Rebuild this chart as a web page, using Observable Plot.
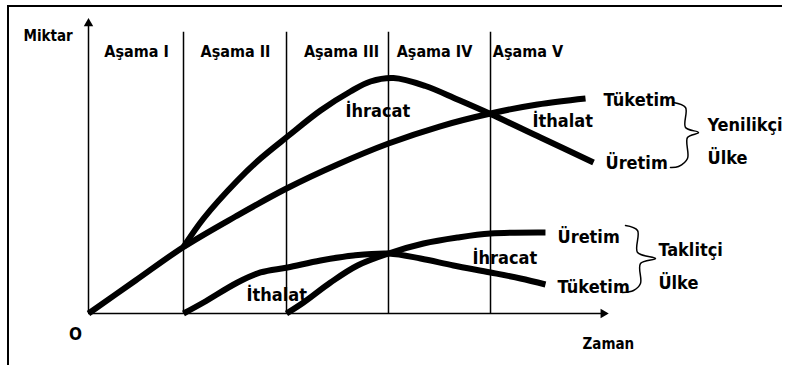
<!DOCTYPE html>
<html><head><meta charset="utf-8">
<script src="https://cdn.jsdelivr.net/npm/d3@7"></script>
<script src="https://cdn.jsdelivr.net/npm/@observablehq/plot@0.6"></script>
<style>
body{margin:0;background:#fff;}
#wrap{position:relative;width:787px;height:365px;overflow:hidden;}
#frame{position:absolute;left:7px;top:5px;width:775px;height:362px;border-top:2px solid #000;border-left:2px solid #000;box-sizing:border-box;pointer-events:none;}
</style></head><body>
<div id="wrap"><div id="frame"></div></div>
<script>
// Stage (Aşama) boundaries on the time axis and their labels
const stageBounds = [0, 18.27, 38.08, 57.69, 77.31];
const stageLabels = ["Aşama I", "Aşama II", "Aşama III", "Aşama IV", "Aşama V"];
const stageLabelX = [9.23, 28.27, 48.65, 66.54, 84.52];
const stageLabelY = 88.6;

// Yenilikçi Ülke (innovating country)
const innovConsX = [0, 9.04, 18.27, 28.27, 38.08, 47.88, 57.69, 67.5, 77.31, 86.35, 95.58];
const innovConsY = [0, 11.38, 22.93, 33.45, 43.10, 51.38, 58.62, 64.48, 68.97, 72.07, 74.14];
const innovProdX = [18.27, 22.12, 28.65, 33.08, 38.27, 44.62, 50.38, 54.23, 58.65, 64.81, 70.96, 77.31, 86.92, 97.12];
const innovProdY = [22.93, 32.76, 45.86, 53.45, 61.03, 70.0, 76.55, 80.0, 81.21, 78.45, 73.79, 68.79, 60.69, 52.07];

// Taklitçi Ülke (imitating country)
const imitConsX = [18.27, 22.12, 28.65, 33.08, 38.27, 44.62, 50.96, 57.69, 63.85, 70.19, 77.31, 83.08, 87.88];
const imitConsY = [0, 3.79, 10.69, 14.14, 15.86, 18.28, 20.0, 20.69, 18.97, 16.55, 14.14, 12.07, 10.0];
const imitProdX = [38.08, 41.35, 46.54, 51.73, 57.69, 64.42, 70.96, 77.31, 87.88];
const imitProdY = [0, 3.79, 10.69, 16.55, 20.69, 24.14, 26.21, 27.59, 27.93];

// Curve annotations
const labelTexts = ["İhracat", "İthalat", "Tüketim", "Üretim", "Yenilikçi", "Ülke", "İhracat", "İthalat", "Üretim", "Tüketim", "Taklitçi", "Ülke"];
const labelX = [49.42, 85.38, 99.04, 99.42, 119.04, 119.04, 73.85, 30.38, 90.19, 90.19, 109.6, 109.6];
const labelY = [67.59, 64.14, 71.72, 50.0, 63.10, 51.72, 17.24, 4.48, 24.14, 7.24, 20.0, 8.62];

// Braces
const braceTopX = [112.5, 114.81, 114.81, 117.31, 115.19, 115.19, 113.46, 111.92];
const braceTopY = [72.76, 71.03, 64.14, 62.41, 60.69, 53.45, 50.69, 50.34];
const braceBotX = [103.27, 105.58, 105.58, 109.04, 106.15, 106.15, 104.81, 102.69];
const braceBotY = [30.34, 28.62, 21.03, 18.97, 17.24, 10.34, 7.93, 7.24];

// Axis titles
const yTitle = "Miktar";
const yTitlePos = [-12.5, 94.1];
const originLabel = "O";
const originPos = [-2.5, -9.3];
const xTitle = "Zaman";
const xTitlePos = [95.0, -12.4];

const pts = (xs, ys) => xs.map((x, i) => ({x, y: ys[i]}));
const FONT = "'DejaVu Sans Condensed', 'DejaVu Sans', sans-serif";

const curveOpts = {x: "x", y: "y", curve: "catmull-rom", stroke: "#000", strokeWidth: 6, strokeLinecap: "butt"};
const txt = {fontWeight: "bold", lineAnchor: "bottom", fill: "#000"};

const chart = Plot.plot({
  width: 787, height: 365,
  marginLeft: 88, marginRight: 179, marginTop: 23, marginBottom: 52,
  x: {domain: [0, 100], axis: null},
  y: {domain: [0, 100], axis: null},
  style: {fontFamily: FONT, background: "transparent", overflow: "visible", fontStretch: "condensed"},
  marks: [
    Plot.ruleX(stageBounds.slice(1), {y1: 0, y2: 97, stroke: "#000", strokeWidth: 1.5}),
    Plot.ruleX([0], {y1: 0, y2: 100, stroke: "#000", strokeWidth: 1.5}),
    Plot.ruleY([0], {x1: 0, x2: 99, stroke: "#000", strokeWidth: 1.5}),
    Plot.dot([{x: 0, y: 100}], {x: "x", y: "y", symbol: "triangle", r: 3.5, fill: "#000", stroke: null}),
    Plot.dot([{x: 99, y: 0}], {x: "x", y: "y", symbol: "triangle", r: 3.5, fill: "#000", stroke: null, rotate: 90}),
    Plot.text(stageLabels, {...txt, x: (d, i) => stageLabelX[i], y: stageLabelY, text: d => d, fontSize: 16, textAnchor: "middle"}),
    Plot.line(pts(innovConsX, innovConsY), curveOpts),
    Plot.line(pts(innovProdX, innovProdY), curveOpts),
    Plot.line(pts(imitConsX, imitConsY), curveOpts),
    Plot.line(pts(imitProdX, imitProdY), curveOpts),
    Plot.line(pts(braceTopX, braceTopY), {x: "x", y: "y", curve: "catmull-rom", stroke: "#000", strokeWidth: 1.5}),
    Plot.line(pts(braceBotX, braceBotY), {x: "x", y: "y", curve: "catmull-rom", stroke: "#000", strokeWidth: 1.5}),
    Plot.text(labelTexts, {...txt, x: (d, i) => labelX[i], y: (d, i) => labelY[i], text: d => d, fontSize: 18, textAnchor: "start"}),
    Plot.text([yTitle], {...txt, x: yTitlePos[0], y: yTitlePos[1], text: d => d, fontSize: 15, textAnchor: "start"}),
    Plot.text([originLabel], {...txt, x: originPos[0], y: originPos[1], text: d => d, fontSize: 17, textAnchor: "middle"}),
    Plot.text([xTitle], {...txt, x: xTitlePos[0], y: xTitlePos[1], text: d => d, fontSize: 15, textAnchor: "start"})
  ]
});
document.getElementById("wrap").prepend(chart);
</script>
</body></html>
